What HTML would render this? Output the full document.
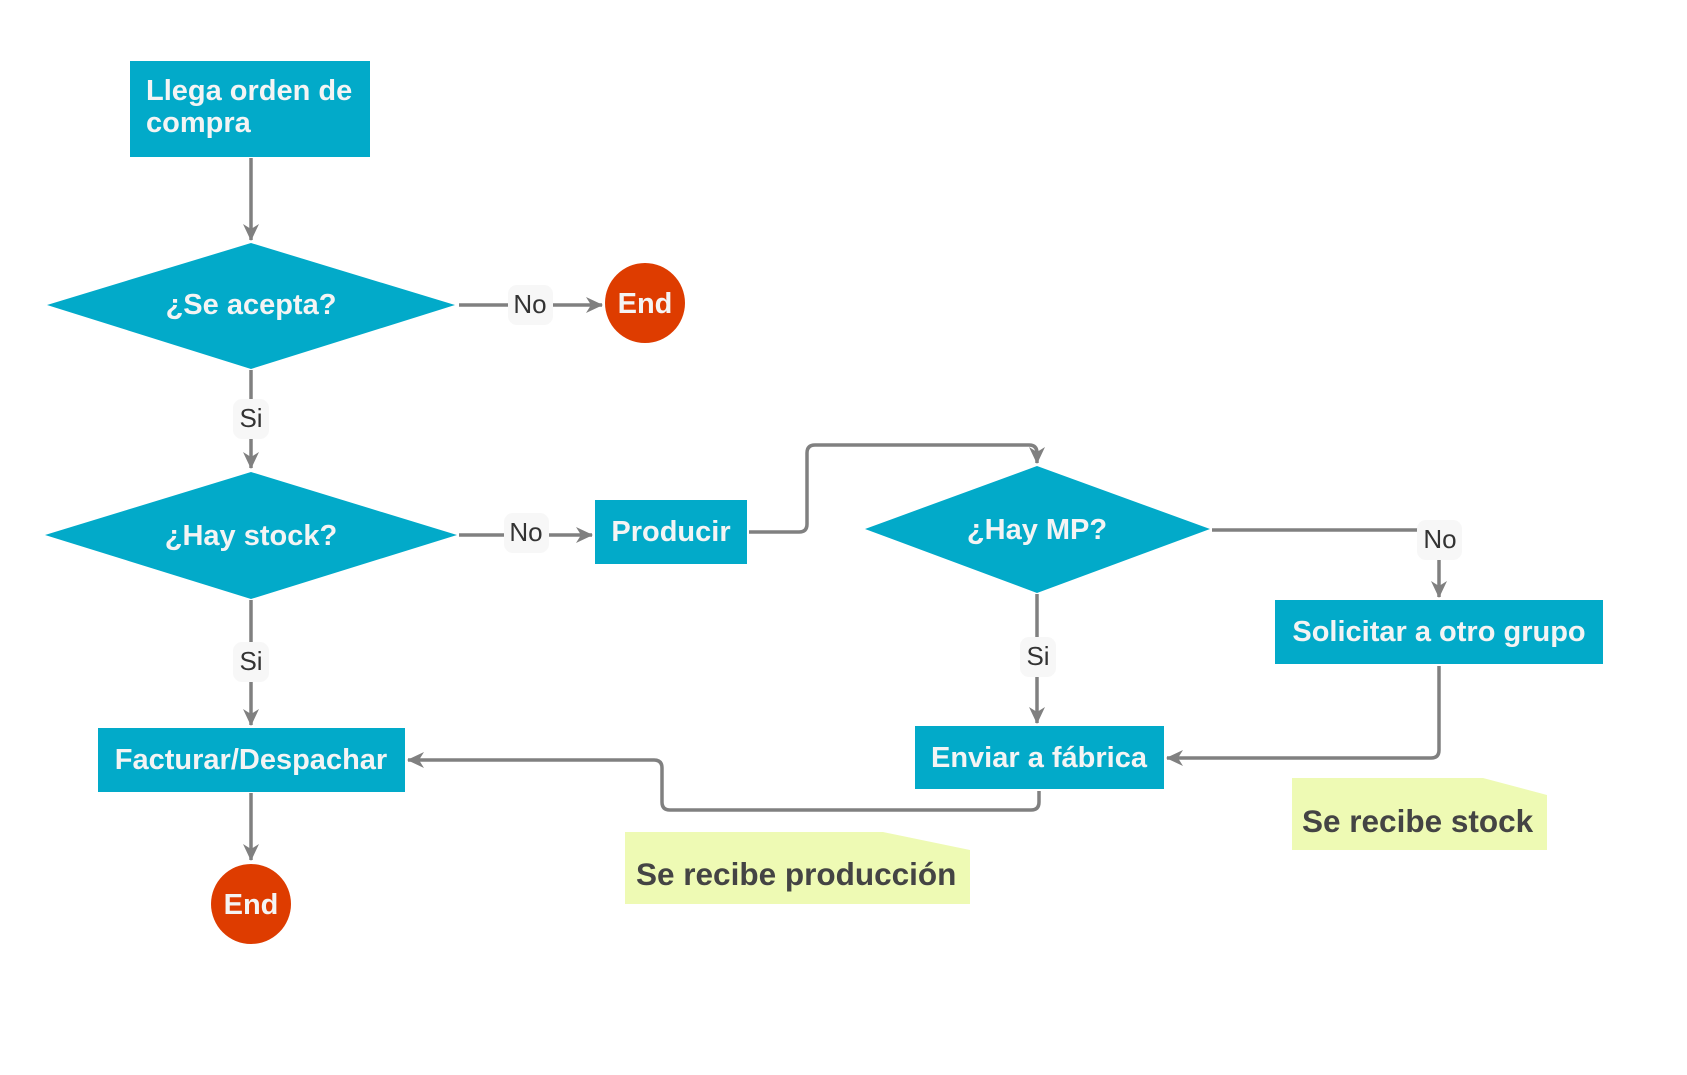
<!DOCTYPE html>
<html><head><meta charset="utf-8"><style>
html,body{margin:0;padding:0;background:#fff;}
svg{display:block;}
.bt{font-family:"Liberation Sans",sans-serif;font-weight:bold;fill:#f4f4f4;}
.lb{font-family:"Liberation Sans",sans-serif;font-size:26px;fill:#333;text-anchor:middle;}
.nt{font-family:"Liberation Sans",sans-serif;font-weight:bold;font-size:31.5px;fill:#444;}
</style></head><body>
<svg width="1687" height="1075" viewBox="0 0 1687 1075" xmlns="http://www.w3.org/2000/svg">
<defs>
<marker id="a" markerWidth="20" markerHeight="20" refX="16" refY="10" orient="auto" markerUnits="userSpaceOnUse">
<path d="M0,2 L17,10 L0,18 L5,10 Z" fill="#808080"/>
</marker>
</defs>
<g stroke="#808080" stroke-width="3.5" fill="none" stroke-linejoin="round">
<path d="M251,158 V240" marker-end="url(#a)"/>
<path d="M459,305 H602" marker-end="url(#a)"/>
<path d="M251,370 V468" marker-end="url(#a)"/>
<path d="M459,535 H592" marker-end="url(#a)"/>
<path d="M251,600 V725" marker-end="url(#a)"/>
<path d="M749,532 H799 Q807,532 807,524 V453 Q807,445 815,445 H1029 Q1037,445 1037,453 V463" marker-end="url(#a)"/>
<path d="M1212,530 H1439 V597" marker-end="url(#a)"/>
<path d="M1037,594 V723" marker-end="url(#a)"/>
<path d="M1439,666 V750 Q1439,758 1431,758 H1167" marker-end="url(#a)"/>
<path d="M1039,791 V802 Q1039,810 1031,810 H670 Q662,810 662,802 V768 Q662,760 654,760 H408" marker-end="url(#a)"/>
<path d="M251,793 V860" marker-end="url(#a)"/>
</g>
<g fill="#02aac9">
<rect x="130" y="61" width="240" height="96"/>
<polygon points="47,305 251,243 455,305 251,369"/>
<polygon points="45,535 251,472 457,535 251,599"/>
<rect x="595" y="500" width="152" height="64"/>
<polygon points="865,529 1037,466 1210,529 1037,593"/>
<rect x="1275" y="600" width="328" height="64"/>
<rect x="98" y="728" width="307" height="64"/>
<rect x="915" y="726" width="249" height="63"/>
</g>
<g fill="#de3c00">
<circle cx="645" cy="303" r="40"/>
<circle cx="251" cy="904" r="40"/>
</g>
<g fill="#eefab4">
<path d="M625,832 H883 L970,850 V904 H625 Z"/>
<path d="M1292,778 H1483 L1547,795 V850 H1292 Z"/>
</g>
<g fill="#f7f7f7">
<rect x="508" y="285" width="45" height="40" rx="9"/>
<rect x="233" y="399" width="36" height="40" rx="9"/>
<rect x="504" y="513" width="45" height="40" rx="9"/>
<rect x="233" y="642" width="36" height="40" rx="9"/>
<rect x="1417" y="520" width="45" height="40" rx="9"/>
<rect x="1020" y="637" width="36" height="40" rx="9"/>
</g>
<g class="lb">
<text x="530" y="313">No</text>
<text x="251" y="427">Si</text>
<text x="526" y="541">No</text>
<text x="251" y="670">Si</text>
<text x="1440" y="548">No</text>
<text x="1038" y="665">Si</text>
</g>
<g class="bt" font-size="29">
<text x="146" y="100">Llega orden de</text>
<text x="146" y="132">compra</text>
<text x="251" y="314" text-anchor="middle">¿Se acepta?</text>
<text x="251" y="545" text-anchor="middle">¿Hay stock?</text>
<text x="671" y="541" text-anchor="middle">Producir</text>
<text x="1037" y="539" text-anchor="middle">¿Hay MP?</text>
<text x="1439" y="641" text-anchor="middle">Solicitar a otro grupo</text>
<text x="251" y="769" text-anchor="middle">Facturar/Despachar</text>
<text x="1039" y="767" text-anchor="middle">Enviar a fábrica</text>
<text x="645" y="313" text-anchor="middle">End</text>
<text x="251" y="914" text-anchor="middle">End</text>
</g>
<text class="nt" x="636" y="885">Se recibe producción</text>
<text class="nt" x="1302" y="832">Se recibe stock</text>
</svg>
</body></html>
